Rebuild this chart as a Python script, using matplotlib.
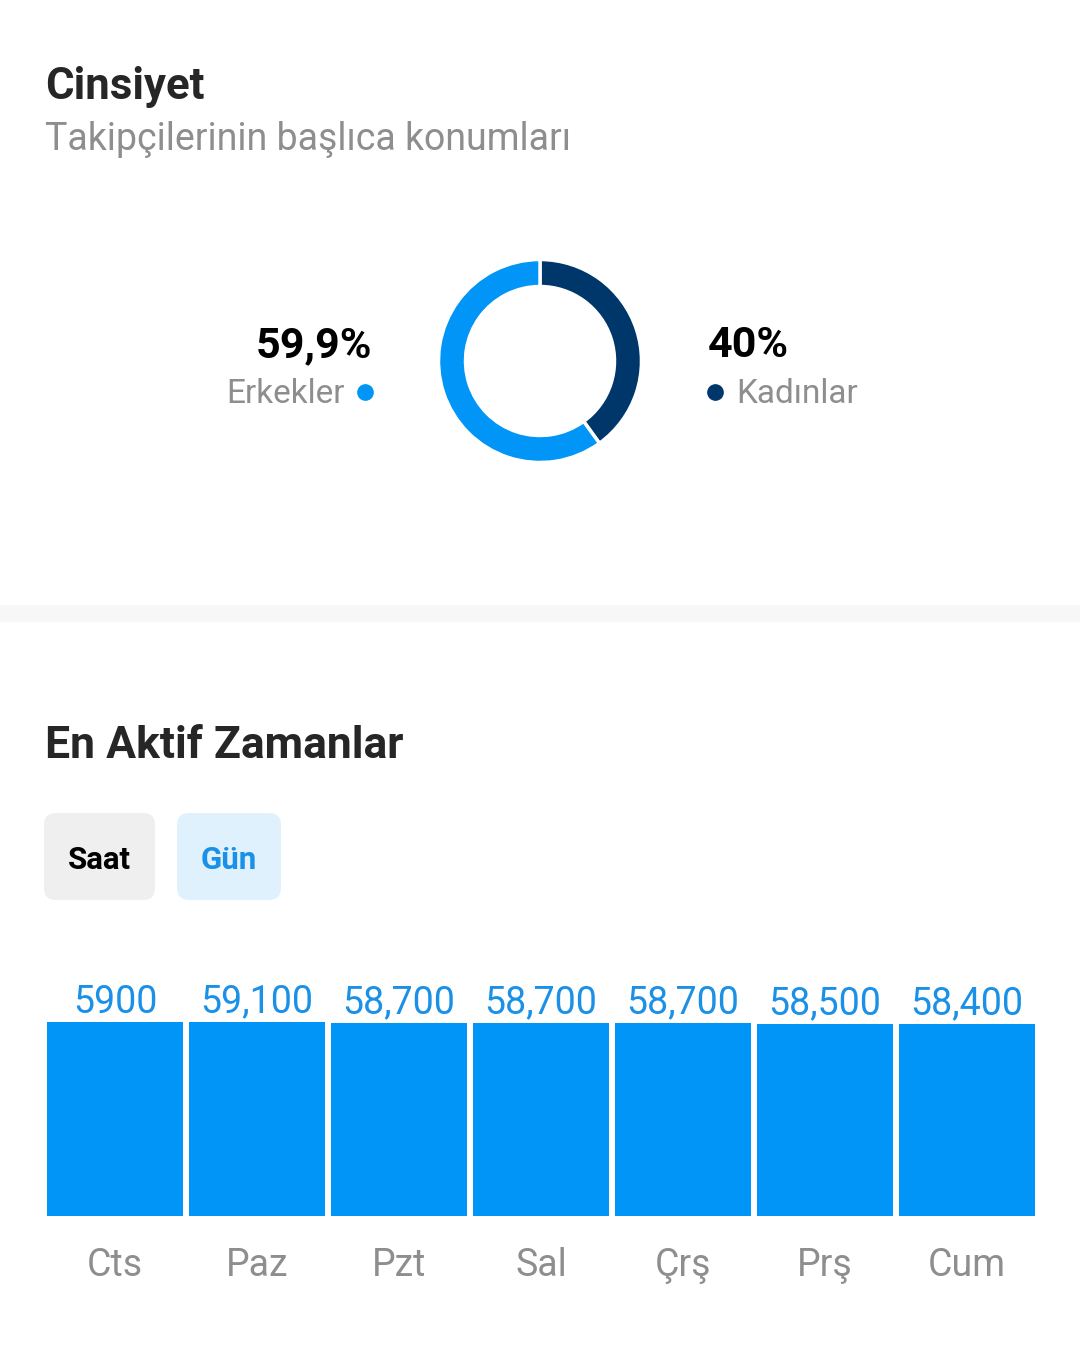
import matplotlib
matplotlib.use("Agg")
import matplotlib.pyplot as plt
from matplotlib.patches import FancyBboxPatch, Rectangle

plt.rcParams['font.family'] = ['Roboto', 'DejaVu Sans']

# data
gender_labels = ["Kadınlar", "Erkekler"]
gender_share = [40.0, 59.9]
gender_text = ["40%", "59,9%"]

days = ["Cts", "Paz", "Pzt", "Sal", "Çrş", "Prş", "Cum"]
day_values = [59000, 59100, 58700, 58700, 58700, 58500, 58400]
day_value_text = ["5900", "59,100", "58,700", "58,700", "58,700", "58,500", "58,400"]

BLUE = "#0095F6"
DARK = "#00376B"
GRAY = "#8E8E8E"
TITLE = "#262626"
LABEL_BLUE = "#1A90E6"

W, H = 1080, 1361
fig = plt.figure(figsize=(W / 100, H / 100), dpi=100)
fig.patch.set_facecolor("white")

# background axes in pixel coords for the page texts
bg = fig.add_axes([0, 0, 1, 1])
bg.set_xlim(0, W)
bg.set_ylim(H, 0)
bg.axis("off")

bg.text(45, 99, "Cinsiyet", fontsize=31.5, fontweight="bold", color=TITLE, va="baseline")
bg.text(45, 150, "Takipçilerinin başlıca konumları", fontsize=27, color=GRAY, va="baseline")

# separator band
bg.add_patch(Rectangle((0, 605), W, 17, color="#F7F7F7", lw=0))

# donut
ax_d = fig.add_axes([440 / W, 1 - 461 / H, 200 / W, 200 / H])
ax_d.pie(gender_share, colors=[DARK, BLUE], startangle=90, counterclock=False,
         radius=1.015, wedgeprops=dict(width=0.27, edgecolor="white", linewidth=2.5))
ax_d.set_aspect("equal")
ax_d.set_xlim(-1.0, 1.0)
ax_d.set_ylim(-1.0, 1.0)

# donut legend texts
bg.text(372, 357, gender_text[1], fontsize=31, fontweight="bold", color="black", ha="right", va="baseline")
bg.text(345, 403, gender_labels[1], fontsize=24, color=GRAY, ha="right", va="baseline")
bg.plot([365], [392], "o", ms=11, color=BLUE)
bg.text(708, 357, gender_text[0], fontsize=31, fontweight="bold", color="black", ha="left", va="baseline")
bg.text(736, 403, gender_labels[0], fontsize=24, color=GRAY, ha="left", va="baseline")
bg.plot([715], [392], "o", ms=11, color=DARK)

# second card
bg.text(45, 758, "En Aktif Zamanlar", fontsize=32, fontweight="bold", color=TITLE, va="baseline")

bg.add_patch(FancyBboxPatch((44, 813), 111, 87, boxstyle="round,pad=0,rounding_size=12",
                            fc="#EFEFEF", ec="none"))
bg.text(99.5, 860, "Saat", fontsize=22.5, fontweight="bold", color="black", ha="center", va="center")
bg.add_patch(FancyBboxPatch((177, 813), 104, 87, boxstyle="round,pad=0,rounding_size=12",
                            fc="#E0F1FE", ec="none"))
bg.text(229, 860, "Gün", fontsize=22.5, fontweight="bold", color=LABEL_BLUE, ha="center", va="center")

# bars
ax_b = fig.add_axes([47 / W, 1 - 1216 / H, 988 / W, 194 / H])
x = list(range(len(days)))
ax_b.bar(x, day_values, width=136 / 142, color=BLUE)
ax_b.set_xlim(-0.5 * 136 / 142, len(days) - 1 + 0.5 * 136 / 142)
ax_b.set_ylim(0, max(day_values))
for s in ax_b.spines.values():
    s.set_visible(False)
ax_b.set_yticks([])
ax_b.set_xticks(x)
ax_b.set_xticklabels(days, fontsize=27, color=GRAY)
ax_b.tick_params(axis="x", length=0, pad=22)
for i, (v, t) in enumerate(zip(day_values, day_value_text)):
    ax_b.annotate(t, xy=(i, v), xytext=(0, 7), textcoords="offset points",
                  ha="center", va="baseline", fontsize=27, color=LABEL_BLUE,
                  annotation_clip=False)

fig.savefig("out.png", dpi=100, facecolor="white")
